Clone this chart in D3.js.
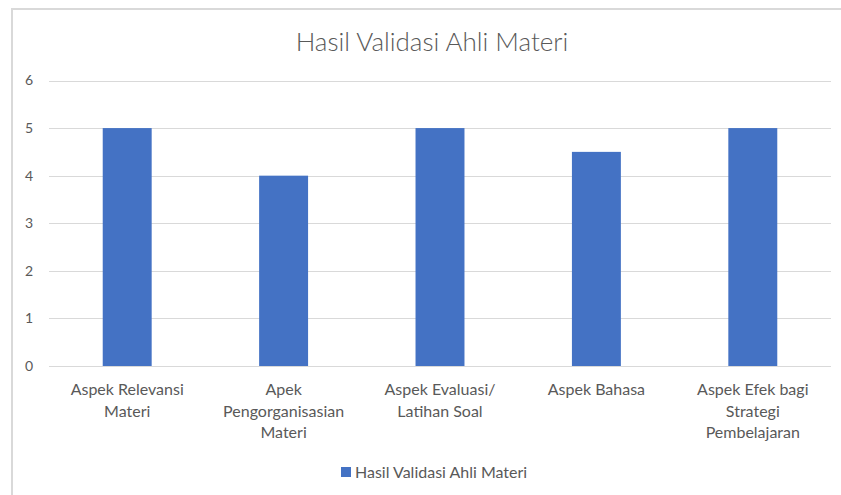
<!DOCTYPE html>
<html>
<head>
<script src="https://d3js.org/d3.v7.min.js" charset="utf-8"></script>
<style>
    body { margin: 0; background: #fff; }
    text { font-family: Lato, "Open Sans", sans-serif; fill: #595959; }
</style>
</head>
<body>
<script>
    // data
    var categories = ["Aspek Relevansi Materi", "Apek Pengorganisasian Materi",
                      "Aspek Evaluasi/ Latihan Soal", "Aspek Bahasa",
                      "Aspek Efek bagi Strategi Pembelajaran"];
    // how the category labels wrap
    var categoryLines = [["Aspek Relevansi", "Materi"],
                         ["Apek", "Pengorganisasian", "Materi"],
                         ["Aspek Evaluasi/", "Latihan Soal"],
                         ["Aspek Bahasa"],
                         ["Aspek Efek bagi", "Strategi", "Pembelajaran"]];
    var values = [5, 4, 5, 4.5, 5];
    var yTicks = [0, 1, 2, 3, 4, 5, 6];
    var seriesName = "Hasil Validasi Ahli Materi";
    var title = "Hasil Validasi Ahli Materi";

    var w = 841, h = 495;
    var plotLeft = 49, plotRight = 831, plotTop = 80.5, plotBottom = 366;

    var svg = d3.select("body").append("svg")
        .attr("width", w)
        .attr("height", h);

    // chart frame
    svg.append("rect")
        .attr("x", 12).attr("y", 9)
        .attr("width", w + 10).attr("height", h + 10)
        .attr("fill", "#fff")
        .attr("stroke", "#d9d9d9")
        .attr("stroke-width", 2);

    var x = d3.scaleBand()
        .domain(categories)
        .range([plotLeft, plotRight])
        .paddingInner(0.687)
        .paddingOuter(0.3435);

    var y = d3.scaleLinear()
        .domain([0, 6])
        .range([plotBottom, plotTop]);

    // gridlines
    svg.append("g").selectAll("line")
        .data(yTicks)
        .enter().append("line")
        .attr("x1", plotLeft).attr("x2", plotRight)
        .attr("y1", function(d) { return Math.round(y(d)) + 0.5; })
        .attr("y2", function(d) { return Math.round(y(d)) + 0.5; })
        .attr("stroke", "#d9d9d9")
        .attr("stroke-width", 1);

    // y labels
    var yAxis = d3.axisLeft(y).tickValues(yTicks).tickFormat(d3.format("d"))
        .tickSize(0).tickPadding(0);
    var gy = svg.append("g")
        .attr("transform", "translate(33,0)")
        .call(yAxis);
    gy.select(".domain").remove();
    gy.selectAll("text")
        .style("font-family", "Lato, sans-serif")
        .attr("font-size", 14)
        .attr("fill", "#595959");

    // bars
    svg.append("g").selectAll("rect")
        .data(values)
        .enter().append("rect")
        .attr("x", function(d, i) { return x(categories[i]); })
        .attr("width", x.bandwidth())
        .attr("y", function(d) { return y(d); })
        .attr("height", function(d) { return y(0) - y(d); })
        .attr("fill", "#4472c4");

    // category labels
    var xl = svg.append("g").selectAll("text")
        .data(categories)
        .enter().append("text")
        .attr("text-anchor", "middle")
        .attr("font-size", 16)
        .attr("x", function(d) { return x(d) + x.bandwidth() / 2; })
        .attr("y", 395);
    xl.selectAll("tspan")
        .data(function(d, i) { return categoryLines[i]; })
        .enter().append("tspan")
        .attr("x", function() { var c = this.parentNode.__data__; return x(c) + x.bandwidth() / 2; })
        .attr("dy", function(d, j) { return j === 0 ? 0 : 21.5; })
        .text(function(d) { return d; });

    // title
    svg.append("text")
        .attr("x", 432)
        .attr("y", 51)
        .attr("text-anchor", "middle")
        .attr("font-size", 26)
        .attr("font-weight", 300)
        .text(title);

    // legend
    svg.append("rect")
        .attr("x", 341).attr("y", 467)
        .attr("width", 10).attr("height", 10)
        .attr("fill", "#4472c4");
    svg.append("text")
        .attr("x", 355).attr("y", 478)
        .attr("font-size", 16)
        .text(seriesName);
</script>
</body>
</html>
